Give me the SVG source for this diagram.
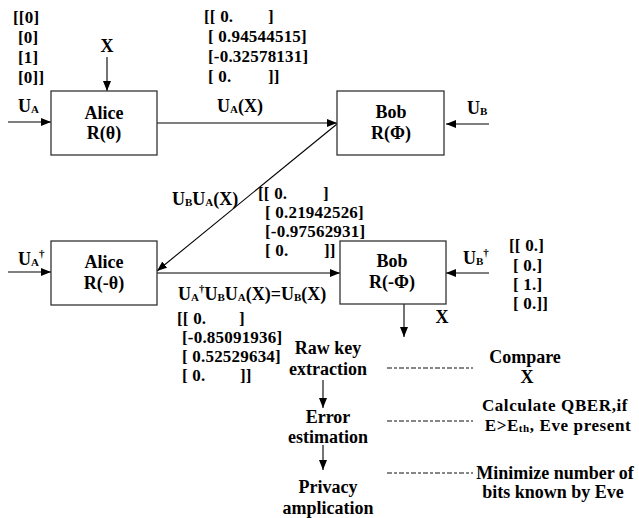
<svg xmlns="http://www.w3.org/2000/svg" width="639" height="518" viewBox="0 0 639 518">
<style>
text{font-family:"Liberation Serif","Times New Roman",serif;font-weight:bold;font-size:18px;fill:#000}
.m{font-size:17px;letter-spacing:0.2px}
.c{text-anchor:middle}
.s{font-size:11px}
.q{font-size:17px;letter-spacing:0.6px}
.box{fill:#fff;stroke:#333;stroke-width:1.3}
.ln{stroke:#000;stroke-width:1.1;fill:none}
.dash{stroke:#111;stroke-width:1.1;stroke-dasharray:5 2 3 2}
</style>
<defs>
<marker id="ah" markerUnits="userSpaceOnUse" markerWidth="11" markerHeight="8" refX="10" refY="4" orient="auto">
<path d="M0,0 L10,4 L0,8 z" fill="#000"/>
</marker>
</defs>
<rect width="639" height="518" fill="#fff"/>

<g id="connectors">
<line class="ln" x1="107" y1="57" x2="107" y2="91" marker-end="url(#ah)"/>
<line class="ln" x1="8" y1="122" x2="51" y2="122" marker-end="url(#ah)"/>
<line class="ln" x1="157" y1="123" x2="337" y2="123" marker-end="url(#ah)"/>
<line class="ln" x1="489" y1="124" x2="446" y2="124" marker-end="url(#ah)"/>
<line class="ln" x1="337" y1="124" x2="157" y2="271" marker-end="url(#ah)"/>
<line class="ln" x1="8" y1="272" x2="51" y2="272" marker-end="url(#ah)"/>
<line class="ln" x1="157" y1="273" x2="340" y2="273" marker-end="url(#ah)"/>
<line class="ln" x1="489" y1="273" x2="446" y2="273" marker-end="url(#ah)"/>
<line class="ln" x1="404" y1="304" x2="404" y2="337" marker-end="url(#ah)"/>
<line class="ln" x1="323" y1="380" x2="323" y2="408" marker-end="url(#ah)"/>
<line class="ln" x1="323" y1="445" x2="323" y2="470" marker-end="url(#ah)"/>
<line class="dash" x1="387" y1="368" x2="473" y2="368"/>
<line class="dash" x1="387" y1="421" x2="473" y2="421"/>
<line class="dash" x1="387" y1="473" x2="473" y2="473"/>
</g>

<g id="alice1">
<rect class="box" x="51" y="91" width="106" height="64"/>
<text class="c" x="104" y="119">Alice</text>
<text class="c" x="104" y="139">R(θ)</text>
</g>
<g id="bob1">
<rect class="box" x="337" y="91" width="107" height="64"/>
<text class="c" x="391" y="118">Bob</text>
<text class="c" x="391" y="139">R(Φ)</text>
</g>
<g id="alice2">
<rect class="box" x="51" y="241" width="106" height="64"/>
<text class="c" x="104" y="268">Alice</text>
<text class="c" x="104" y="289">R(-θ)</text>
</g>
<g id="bob2">
<rect class="box" x="340" y="241" width="106" height="63"/>
<text class="c" x="392" y="267">Bob</text>
<text class="c" x="392" y="288">R(-Φ)</text>
</g>

<g id="labels">
<text class="m" x="13" y="23">[[0]</text>
<text class="m" x="18" y="43">[0]</text>
<text class="m" x="18" y="63">[1]</text>
<text class="m" x="18" y="83">[0]]</text>
<text class="c" x="107" y="52">X</text>

<text class="m" x="204" y="22">[[ 0.</text><text class="m" x="268" y="22">]</text>
<text class="m" x="208" y="42">[ 0.94544515]</text>
<text class="m" x="208" y="62">[-0.32578131]</text>
<text class="m" x="208" y="82">[ 0.</text><text class="m" x="268" y="82">]]</text>

<text x="18" y="112">U<tspan class="s" dy="1">A</tspan></text>
<text x="217" y="112">U<tspan class="s" dy="1">A</tspan><tspan dy="-1">(X)</tspan></text>
<text x="467" y="114">U<tspan class="s" dy="1">B</tspan></text>

<text x="172" y="205">U<tspan class="s" dy="1">B</tspan><tspan dy="-1">U</tspan><tspan class="s" dy="1">A</tspan><tspan dy="-1">(X)</tspan></text>
<text class="m" x="258" y="199">[[ 0.</text><text class="m" x="323" y="199">]</text>
<text class="m" x="265" y="218">[ 0.21942526]</text>
<text class="m" x="265" y="237">[-0.97562931]</text>
<text class="m" x="265" y="256">[ 0.</text><text class="m" x="324" y="256">]]</text>

<text x="18" y="265">U<tspan class="s" dy="1">A</tspan><tspan class="s" dy="-9">†</tspan></text>
<text x="463" y="264">U<tspan class="s" dy="1">B</tspan><tspan class="s" dy="-9">†</tspan></text>
<text class="m" x="509" y="251">[[ 0.]</text>
<text class="m" x="513" y="271">[ 0.]</text>
<text class="m" x="513" y="290">[ 1.]</text>
<text class="m" x="513" y="309">[ 0.]]</text>

<text x="178" y="300">U<tspan class="s" dy="1">A</tspan><tspan class="s" dy="-9">†</tspan><tspan dy="8">U</tspan><tspan class="s" dy="1">B</tspan><tspan dy="-1">U</tspan><tspan class="s" dy="1">A</tspan><tspan dy="-1">(X)=U</tspan><tspan class="s" dy="1">B</tspan><tspan dy="-1">(X)</tspan></text>
<text class="m" x="177" y="324">[[ 0.</text><text class="m" x="239" y="324">]</text>
<text class="m" x="182" y="343">[-0.85091936]</text>
<text class="m" x="182" y="362">[ 0.52529634]</text>
<text class="m" x="182" y="381">[ 0.</text><text class="m" x="240" y="381">]]</text>

<text class="c" x="442" y="323">X</text>
</g>

<g id="steps">
<text class="c" x="328" y="354">Raw key</text>
<text class="c" x="328" y="375">extraction</text>
<text class="c" x="328" y="423">Error</text>
<text class="c" x="328" y="443">estimation</text>
<text class="c" x="328" y="493">Privacy</text>
<text class="c" x="328" y="514">amplication</text>
</g>

<g id="notes">
<text class="c" x="525" y="363">Compare</text>
<text class="c" x="527" y="383">X</text>
<text class="c q" x="555" y="411">Calculate QBER,if</text>
<text class="c q" x="558" y="431">E&gt;E<tspan class="s" dy="1">th</tspan><tspan dy="-1">, Eve present</tspan></text>
<text class="c" x="555" y="479">Minimize number of</text>
<text class="c" x="553" y="498">bits known by Eve</text>
</g>
</svg>
